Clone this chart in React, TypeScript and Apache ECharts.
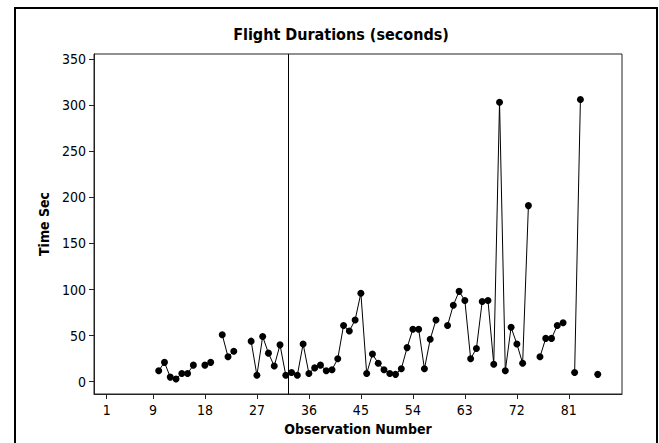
import React, { useEffect, useRef } from "react";
import * as echarts from "echarts";

const title = "Flight Durations (seconds)";
const xName = "Observation Number";
const yName = "Time Sec";
const xTicks = [1, 9, 18, 27, 36, 45, 54, 63, 72, 81];
const yTicks = [0, 50, 100, 150, 200, 250, 300, 350];
const referenceLineX = 32.5;
// TimeSec for observations 1..86 (null = missing)
const timeSec: (number | null)[] = [
  null, null, null, null, null, null, null, null, null, // 1-9
  12, 21, 5, 3, 9, 9, 18, null, 18, 21, // 10-19
  null, 51, 27, 33, null, null, 44, 7, 49, 31, // 20-29
  17, 40, 7, 10, 7, 41, 9, 15, 18, 12, // 30-39
  13, 25, 61, 55, 67, 96, 9, 30, 20, 13, // 40-49
  9, 8, 14, 37, 57, 57, 14, 46, 67, null, // 50-59
  61, 83, 98, 88, 25, 36, 87, 88, 19, 303, // 60-69
  12, 59, 41, 20, 191, null, 27, 47, 47, 61, // 70-79
  64, null, 10, 306, null, null, 8, // 80-86
];

const FONT = "'DejaVu Sans Condensed', 'Liberation Sans Narrow', 'DejaVu Sans', sans-serif";

export default function App() {
  const ref = useRef<HTMLDivElement>(null);
  useEffect(() => {
    document.body.style.margin = "0";
    if (!ref.current) return;
    const chart = echarts.init(ref.current, undefined, { renderer: "svg" });
    const data = timeSec.map((v, i) => [i + 1, v === null ? "-" : v]);
    chart.setOption({
      animation: false,
      backgroundColor: "#fff",
      title: {
        text: title,
        left: 336,
        textAlign: "center",
        top: 21,
        textStyle: { fontFamily: FONT, fontWeight: "bold", fontSize: 16, color: "#000" },
      },
      graphic: [
        {
          type: "rect",
          shape: { x: 15, y: 8, width: 642, height: 445 },
          style: { fill: "none", stroke: "#000", lineWidth: 2 },
          silent: true,
        },
      ],
      grid: {
        left: 94,
        right: 37,
        top: 54,
        bottom: 49,
        show: true,
        borderColor: "#222",
        borderWidth: 1,
        backgroundColor: "transparent",
      },
      xAxis: {
        type: "value",
        min: -1.2,
        max: 90.2,
        name: xName,
        nameLocation: "middle",
        nameGap: 28,
        nameTextStyle: { fontFamily: FONT, fontWeight: "bold", fontSize: 14, color: "#000" },
        axisLine: { show: true, onZero: false, lineStyle: { color: "#222", width: 1 } },
        axisTick: { show: true, length: 5, customValues: xTicks, lineStyle: { color: "#222" } },
        axisLabel: { customValues: xTicks, fontFamily: FONT, fontSize: 14, color: "#000", margin: 9 },
        splitLine: { show: false },
      },
      yAxis: {
        type: "value",
        min: -13.3,
        max: 355.4,
        name: yName,
        nameLocation: "middle",
        nameGap: 41,
        nameRotate: 90,
        nameTextStyle: { fontFamily: FONT, fontWeight: "bold", fontSize: 14, color: "#000" },
        axisLine: { show: true, onZero: false, lineStyle: { color: "#222", width: 1 } },
        axisTick: { show: true, length: 5, customValues: yTicks, lineStyle: { color: "#222" } },
        axisLabel: { customValues: yTicks, fontFamily: FONT, fontSize: 14, color: "#000", margin: 8 },
        splitLine: { show: false },
      },
      series: [
        {
          type: "line",
          data,
          connectNulls: false,
          symbol: "circle",
          symbolSize: 7,
          showAllSymbol: true,
          itemStyle: { color: "#000" },
          lineStyle: { color: "#000", width: 1 },
          markLine: {
            silent: true,
            symbol: ["none", "none"],
            label: { show: false },
            lineStyle: { color: "#000", width: 1, type: "solid" },
            data: [{ xAxis: referenceLineX }],
          },
        },
      ],
    });
    return () => chart.dispose();
  }, []);
  return <div ref={ref} style={{ width: 659, height: 443 }} />;
}
